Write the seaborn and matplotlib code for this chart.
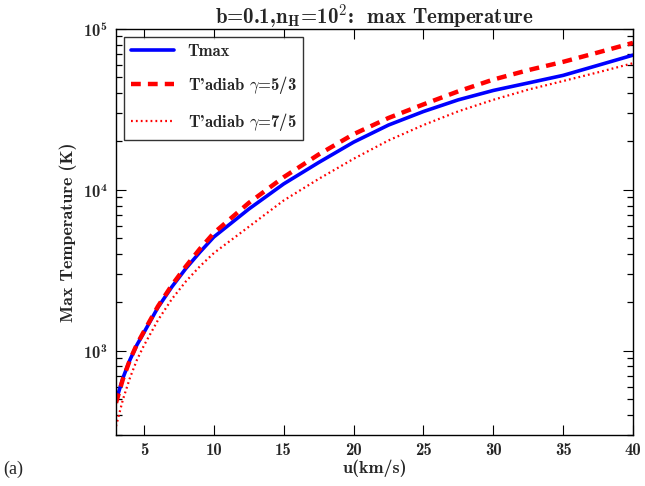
import matplotlib
matplotlib.use("Agg")
import matplotlib.pyplot as plt
import seaborn as sns
import pandas as pd
from matplotlib.ticker import FixedLocator, NullFormatter, LogFormatterMathtext

u = [3, 3.5, 4, 4.5, 5, 6, 7, 8, 9, 10, 12.5, 15, 17.5, 20, 22.5, 25, 27.5, 30, 32.5, 35, 37.5, 40]
tmax = [490, 680, 880, 1090, 1300, 1860, 2500, 3250, 4100, 5100, 7600, 10900, 14800, 19800,
        25300, 30700, 36300, 41500, 46200, 51500, 59500, 68800]
tad_53 = [475, 670, 880, 1100, 1320, 1890, 2560, 3350, 4300, 5400, 8300, 12000, 16600, 22200,
          28000, 34000, 41000, 48500, 55500, 62500, 71500, 82000]
tad_75 = [340, 500, 680, 880, 1080, 1550, 2100, 2700, 3350, 4050, 5900, 8600, 11700, 15600,
          20300, 25300, 30800, 36300, 42000, 47500, 53800, 61300]
xticks = [5, 10, 15, 20, 25, 30, 35, 40]
yticks = [1e3, 1e4, 1e5]

title = r"b=0.1,n$_{\mathbf{H}}$=10$^{\mathbf{2}}$:  max Temperature"
xlabel = "u(km/s)"
ylabel = "Max Temperature (K)"
labels = ["Tmax", r"T'adiab $\gamma$=5/3", r"T'adiab $\gamma$=7/5"]

sns.set_style("ticks", {"ytick.minor.size": 4.0, "xtick.minor.size": 0.0})
plt.rcParams["font.family"] = ["cmb10", "DejaVu Serif"]
plt.rcParams["mathtext.fontset"] = "cm"
plt.rcParams["mathtext.default"] = "bf"
plt.rcParams["axes.unicode_minus"] = False
plt.rcParams["ytick.minor.size"] = 4.0
plt.rcParams["ytick.minor.width"] = 0.9

df = pd.DataFrame({"u": u, "tmax": tmax, "t53": tad_53, "t75": tad_75})

fig = plt.figure(figsize=(6.45, 4.86), dpi=100)
ax = fig.add_axes([116 / 645, 1 - 435 / 486, (633 - 116) / 645, (435 - 29) / 486])

sns.lineplot(data=df, x="u", y="tmax", ax=ax, color="#0000ff", lw=2.6, label=labels[0])
sns.lineplot(data=df, x="u", y="t53", ax=ax, color="#ff0000", lw=3.2, ls=(0, (2.2, 1.6)), label=labels[1])
sns.lineplot(data=df, x="u", y="t75", ax=ax, color="#ff0000", lw=1.6, ls=(0, (0.8, 1.4)), label=labels[2])

ax.set_yscale("log")
ax.set_xlim(3, 40)
ax.set_ylim(300, 1e5)
ax.xaxis.set_major_locator(FixedLocator(xticks))
ax.yaxis.set_major_locator(FixedLocator(yticks))
ax.yaxis.set_major_formatter(LogFormatterMathtext())
minor = [m * d for d in (100, 1000, 10000) for m in range(2, 10) if 300 <= m * d <= 1e5]
ax.set_yticks(minor, minor=True)
ax.yaxis.set_minor_formatter(NullFormatter())
ax.tick_params(axis="both", which="major", top=True, right=True, left=True, bottom=True,
               direction="in", labelsize=12, pad=6, color="black", length=7, width=0.8)
ax.tick_params(axis="y", which="minor", left=True, right=True, direction="in",
               color="black", length=4.5, width=0.9)
for s in ax.spines.values():
    s.set_linewidth(1.0)
    s.set_color("black")

ax.set_title(title, fontsize=15, pad=4)
ax.set_xlabel(xlabel, fontsize=13, labelpad=1)
ax.set_ylabel(ylabel, fontsize=13, labelpad=4)

leg = ax.legend(loc="upper left", fontsize=12, frameon=True, fancybox=False,
                edgecolor="black", handlelength=2.6, borderaxespad=0.5, labelspacing=0.9)
leg.get_frame().set_linewidth(1.0)

fig.text(0.005, 0.025, "(a)", fontsize=13, family="Liberation Serif", fontweight="normal")

fig.savefig("out.png", dpi=100)
